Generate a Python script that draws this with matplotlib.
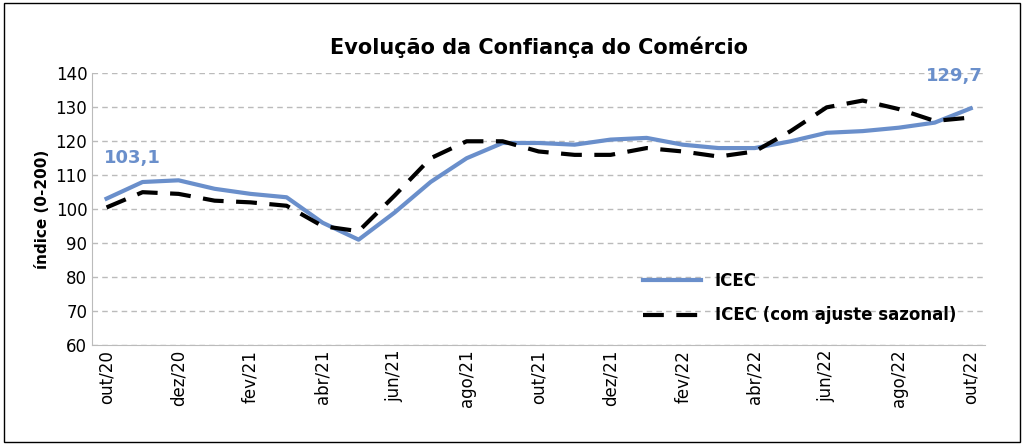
import matplotlib.pyplot as plt
from matplotlib.patches import Rectangle

months = ['out/20', 'nov/20', 'dez/20', 'jan/21', 'fev/21', 'mar/21', 'abr/21', 'mai/21',
          'jun/21', 'jul/21', 'ago/21', 'set/21', 'out/21', 'nov/21', 'dez/21', 'jan/22',
          'fev/22', 'mar/22', 'abr/22', 'mai/22', 'jun/22', 'jul/22', 'ago/22', 'set/22', 'out/22']
icec = [103.1, 108, 108.5, 106, 104.5, 103.5, 96, 91, 99, 108, 115, 119.5, 119.5, 119,
        120.5, 121, 119, 118, 118, 120, 122.5, 123, 124, 125.5, 129.7]
icec_sa = [100.5, 105, 104.5, 102.5, 102, 101, 95, 93.5, 104, 115, 120, 120, 117, 116,
           116, 118, 117, 115.5, 117, 123, 130, 132, 129.5, 126, 127]

blue = '#6A8FCB'
fig = plt.figure(figsize=(10.24, 4.45), dpi=100)
ax = fig.add_axes([0.09, 0.225, 0.872, 0.61])
x = list(range(len(months)))
ax.plot(x, icec, color=blue, linewidth=3, label='ICEC')
ax.plot(x, icec_sa, color='black', linewidth=3, dashes=(5, 3), label='ICEC (com ajuste sazonal)')

ax.set_ylim(60, 140)
ax.set_yticks(range(60, 141, 10))
ax.set_xlim(-0.4, len(months) - 0.6)
ax.set_xticks(x[::2])
ax.set_xticklabels(months[::2], rotation=90, fontsize=12)
ax.tick_params(axis='y', labelsize=12, length=0)
ax.tick_params(axis='x', length=0)
ax.yaxis.grid(True, linestyle=(0, (4, 3)), color='#BBBBBB', linewidth=1)
ax.set_axisbelow(True)
for s in ['top', 'right']:
    ax.spines[s].set_visible(False)
for s in ['left', 'bottom']:
    ax.spines[s].set_color('#BBBBBB')
ax.set_ylabel('índice (0-200)', fontsize=11, fontweight='bold')
ax.set_title('Evolução da Confiança do Comércio', fontsize=15, fontweight='bold', pad=14)

ax.annotate('103,1', (x[0], icec[0]), xytext=(-2, 26), textcoords='offset points',
            color=blue, fontsize=13, fontweight='bold')
ax.annotate('129,7', (x[-1], icec[-1]), xytext=(-32, 20), textcoords='offset points',
            color=blue, fontsize=13, fontweight='bold')

ax.legend(loc='lower left', bbox_to_anchor=(0.6, 0.02), frameon=False,
          prop={'size': 12, 'weight': 'bold'}, handlelength=3.5, labelspacing=1.0)

fig.patches.append(Rectangle((0.004, 0.006), 0.992, 0.988, transform=fig.transFigure,
                             fill=False, edgecolor='black', linewidth=1))
fig.savefig('out.png', dpi=100)
